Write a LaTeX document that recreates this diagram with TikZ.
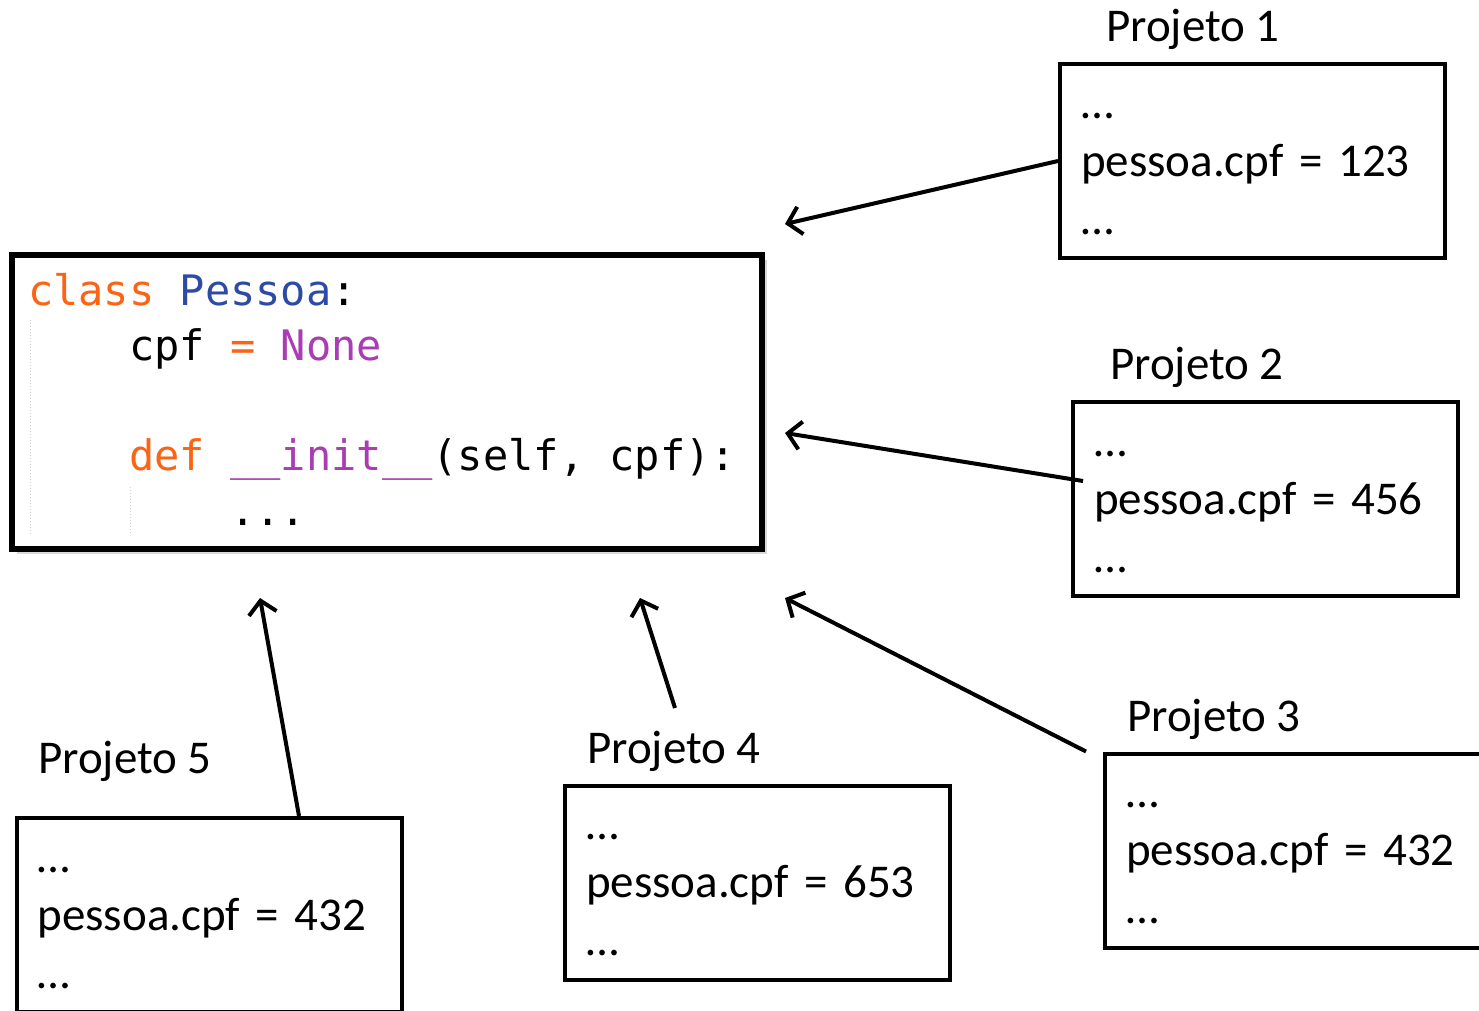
\documentclass[tikz,border=0pt]{standalone}
\usepackage{fontspec}
\usepackage{xcolor}
\usetikzlibrary{arrows.meta,shadows}
\setmainfont{Carlito}
\newfontfamily\codefont{DejaVu Sans Mono}

\definecolor{kworange}{RGB}{250,100,20}
\definecolor{clsblue}{RGB}{45,75,165}
\definecolor{magic}{RGB}{170,60,180}

\newcommand{\pstrut}{\rule[-10pt]{0pt}{50pt}}
\newcommand{\cstrut}{\rule[-12pt]{0pt}{50pt}}
\newcommand{\projlines}[1]{\pstrut…\\\pstrut pessoa.cpf = #1\\\pstrut…}

\tikzset{
  projbox/.style={draw, line width=4pt, minimum width=385pt, minimum height=194pt,
    text width=343pt, inner xsep=21pt, inner ysep=0pt, align=left,
    font=\fontsize{47}{58}\selectfont},
  projtitle/.style={anchor=base west, inner sep=0pt, font=\fontsize{47}{58}\selectfont},
  codebox/.style={draw, line width=6pt, fill=white,
    drop shadow={shadow xshift=5pt, shadow yshift=-5pt, opacity=0.3},
    minimum width=750pt, minimum height=294pt, text width=718pt,
    inner xsep=16pt, inner ysep=0pt, align=left,
    font=\codefont\fontsize{42}{55}\selectfont},
  uses/.style={line width=4pt, -{Straight Barb[length=13pt, width=28pt]}},
  guide/.style={gray!35, dotted, line width=1pt},
}

\begin{document}
\begin{tikzpicture}[x=1pt, y=-1pt]
  \useasboundingbox (0,0) rectangle (1479,1010);

  % the class
  \node[codebox] (code) at (387,402) {\spaceskip=25.3pt\relax
    \cstrut{\color{kworange}class} {\color{clsblue}Pessoa}:\\
    \cstrut\phantom{xxxx}cpf {\color{kworange}=} {\color{magic}None}\\
    \cstrut\\
    \cstrut\phantom{xxxx}{\color{kworange}def} {\color{magic}\_\_init\_\_}(self, cpf):\\
    \cstrut\phantom{xxxxxxxx}...};
  \draw[guide] (30,320) -- (30,535);
  \draw[guide] (130,487) -- (130,535);

  % projects
  \node[projbox] (box1) at (1252.5,161) {\projlines{123}};
  \node[projbox] (box2) at (1265.5,499) {\projlines{456}};
  \node[projbox] (box3) at (1297.5,850.5) {\projlines{432}};
  \node[projbox] (box4) at (757.5,882.5) {\projlines{653}};
  \node[projbox] (box5) at (209,915) {\projlines{432}};

  \node[projtitle] (title1) at (1106,41) {Projeto 1};
  \node[projtitle] (title2) at (1110,379) {Projeto 2};
  \node[projtitle] (title3) at (1127,731) {Projeto 3};
  \node[projtitle] (title4) at (587,763) {Projeto 4};
  \node[projtitle] (title5) at (38,773) {Projeto 5};

  % arrows
  \coordinate (h1) at (785,224);
  \coordinate (h2) at (785,433);
  \coordinate (h3) at (785,598);
  \coordinate (h4) at (640,598);
  \coordinate (h5) at (260,598);
  \coordinate (t4) at (675,708);

  \draw[uses] (box1.west) -- (h1);
  \draw[uses] ([xshift=12pt,yshift=18pt]box2.west) -- (h2);
  \draw[uses] ([xshift=-17pt]box3.north west) -- (h3);
  \draw[uses] (t4) -- (h4);
  \draw[uses] ([xshift=90pt]box5.north) -- (h5);
\end{tikzpicture}
\end{document}
